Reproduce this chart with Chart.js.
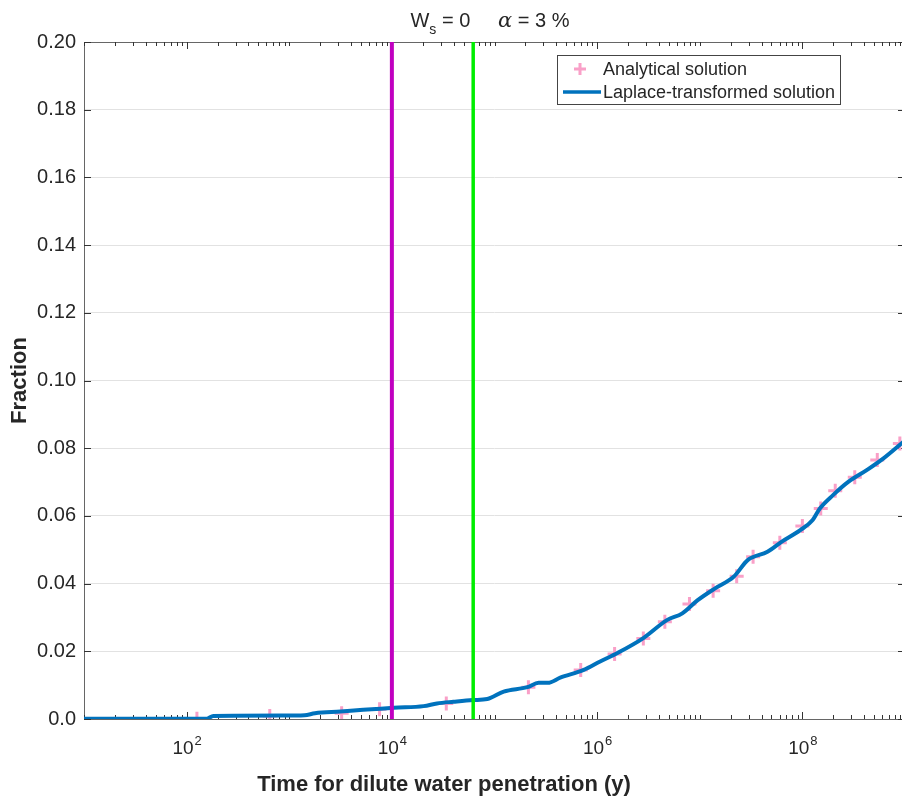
<!DOCTYPE html>
<html>
<head>
<meta charset="utf-8">
<script src="https://cdn.jsdelivr.net/npm/chart.js@4.4.1/dist/chart.umd.min.js"></script>
<style>
html, body { margin: 0; padding: 0; background: #fff; overflow: hidden; }
#myChart { display: block; width: 906px; height: 798px; }
</style>
</head>
<body>
<canvas id="myChart" width="906" height="798"></canvas>
<script>
// Laplace-transformed solution: time (y) and fraction
var lineTime = [10, 158, 182, 891, 1410, 1780, 3160, 5250, 7760, 1.05e4, 2.04e4, 2.75e4, 3.98e4,
  6.17e4, 8.51e4, 1.23e5, 2.09e5, 2.69e5, 3.31e5, 4.37e5, 7.41e5, 1.07e6, 1.58e6, 2.82e6,
  4.79e6, 6.76e6, 9.55e6, 1.41e7, 2.14e7, 2.95e7, 4.57e7, 6.31e7, 9.55e7, 1.26e8, 1.48e8,
  2.0e8, 2.82e8, 4.27e8, 6.17e8, 1e9];
var lineFrac = [0.0001, 0.0001, 0.0009, 0.0010, 0.0011, 0.0017, 0.0022, 0.0027, 0.0030, 0.0033,
  0.0038, 0.0046, 0.0051, 0.0056, 0.0059, 0.0081, 0.0094, 0.0107, 0.0107, 0.0122, 0.0145,
  0.0170, 0.0195, 0.0239, 0.0292, 0.0312, 0.0351, 0.0386, 0.0420, 0.0470, 0.0494, 0.0524,
  0.0558, 0.0588, 0.0622, 0.0662, 0.0701, 0.0736, 0.0770, 0.0823];

// Analytical solution points
var anaTime = [126, 646, 3240, 7590, 3.39e4, 2.14e5, 6.92e5, 1.48e6, 2.82e6, 4.57e6, 7.94e6,
  1.35e7, 2.29e7, 3.31e7, 6.03e7, 1.0e8, 1.51e8, 2.09e8, 3.24e8, 5.37e8, 8.91e8];
var anaFrac = [0.0001, 0.0009, 0.0017, 0.0029, 0.0046, 0.0094, 0.0145, 0.0192, 0.0238, 0.0287,
  0.0340, 0.0379, 0.0422, 0.0479, 0.0521, 0.0570, 0.0622, 0.0674, 0.0714, 0.0765, 0.0814];

// vertical marker times
var magentaTime = 1.0e4;
var greenTime = 6.2e4;

var xMin = 10, xMax = 1e9;
var yMin = 0, yMax = 0.2, yStep = 0.02;
var xLabelExps = [2, 4, 6, 8];

var seriesNames = ['Analytical solution', 'Laplace-transformed solution'];

var pink = '#f9a0c8';
var blue = '#0072bd';
var axisCol = '#262626';

function pts(xs, ys) {
  var out = [];
  for (var i = 0; i < xs.length; i++) out.push({x: xs[i], y: ys[i]});
  return out;
}

var FONT = '"Liberation Sans", Arial, Helvetica, sans-serif';

// axes box, inward ticks, x labels with exponents, titles
var decorations = {
  id: 'decorations',
  beforeDatasetsDraw: function(chart) {
    var ctx = chart.ctx, a = chart.chartArea;
    var xs = chart.scales.x, ys = chart.scales.y;
    ctx.save();
    ctx.strokeStyle = '#666';
    ctx.lineWidth = 1;
    ctx.strokeRect(a.left + 0.5, a.top + 0.5, a.right - a.left - 1, a.bottom - a.top);
    ctx.beginPath();
    ctx.strokeStyle = '#333';
    for (var d = 1; d <= 9; d++) {
      for (var k = 1; k <= 9; k++) {
        var v = k * Math.pow(10, d);
        if (v > xMax) break;
        var px = Math.round(xs.getPixelForValue(v)) + 0.5;
        var len = (k === 1 && d % 2 === 0) ? 7 : 4;
        ctx.moveTo(px, a.bottom); ctx.lineTo(px, a.bottom - len);
        ctx.moveTo(px, a.top); ctx.lineTo(px, a.top + len);
      }
    }
    for (var t = yMin; t <= yMax + 1e-9; t += yStep) {
      var py = Math.round(ys.getPixelForValue(t)) + 0.5;
      ctx.moveTo(a.left, py); ctx.lineTo(a.left + 7, py);
      ctx.moveTo(a.right, py); ctx.lineTo(a.right - 7, py);
    }
    ctx.stroke();
    ctx.restore();
  },
  afterDraw: function(chart) {
    var ctx = chart.ctx, a = chart.chartArea;
    var xs = chart.scales.x;
    ctx.save();
    ctx.fillStyle = axisCol;
    ctx.textBaseline = 'alphabetic';
    // x tick labels 10^n
    xLabelExps.forEach(function(e) {
      var px = xs.getPixelForValue(Math.pow(10, e));
      ctx.font = '19px ' + FONT;
      var w1 = ctx.measureText('10').width;
      ctx.font = '13px ' + FONT;
      var w2 = ctx.measureText(String(e)).width;
      var x0 = px - (w1 + w2) / 2;
      ctx.font = '19px ' + FONT;
      ctx.textAlign = 'left';
      ctx.fillText('10', x0, 754);
      ctx.font = '13px ' + FONT;
      ctx.fillText(String(e), x0 + w1 + 1, 745);
    });
    // axis titles
    ctx.font = 'bold 22px ' + FONT;
    ctx.textAlign = 'center';
    ctx.fillText('Time for dilute water penetration (y)', 444, 791);
    ctx.save();
    ctx.translate(26, (a.top + a.bottom) / 2);
    ctx.rotate(-Math.PI / 2);
    ctx.fillText('Fraction', 0, 0);
    ctx.restore();
    // title: W_s = 0    alpha = 3 %
    var parts = [
      {t: 'W', f: '20px ' + FONT, dy: 0},
      {t: 's', f: '14px ' + FONT, dy: 7},
      {t: ' = 0     ', f: '20px ' + FONT, dy: 0},
      {t: '\u03b1', f: 'italic 21px "DejaVu Serif", "Liberation Serif", serif', dy: 0},
      {t: ' = 3 %', f: '20px ' + FONT, dy: 0}
    ];
    var total = 0;
    parts.forEach(function(p) { ctx.font = p.f; p.w = ctx.measureText(p.t).width; total += p.w; });
    var tx = 490 - total / 2;
    ctx.textAlign = 'left';
    parts.forEach(function(p) { ctx.font = p.f; ctx.fillText(p.t, tx, 27 + p.dy); tx += p.w; });
    // legend
    ctx.fillStyle = '#fff';
    ctx.fillRect(557.5, 55.5, 283, 49);
    ctx.strokeStyle = '#444';
    ctx.lineWidth = 1;
    ctx.strokeRect(557.5, 55.5, 283, 49);
    ctx.strokeStyle = pink;
    ctx.lineWidth = 3;
    ctx.beginPath();
    ctx.moveTo(580, 63); ctx.lineTo(580, 75);
    ctx.moveTo(574, 69); ctx.lineTo(586, 69);
    ctx.stroke();
    ctx.strokeStyle = blue;
    ctx.lineWidth = 3.5;
    ctx.beginPath();
    ctx.moveTo(563, 92); ctx.lineTo(601, 92);
    ctx.stroke();
    ctx.fillStyle = axisCol;
    ctx.font = '18px ' + FONT;
    ctx.textBaseline = 'middle';
    ctx.fillText(seriesNames[0], 603, 70);
    ctx.fillText(seriesNames[1], 603, 93);
    ctx.restore();
  }
};

var ctxEl = document.getElementById('myChart');
var myChart = new Chart(ctxEl, {
  type: 'line',
  data: {
    datasets: [
      {
        label: 'magenta',
        data: pts([magentaTime, magentaTime], [yMin, yMax]),
        borderColor: '#c000c0',
        borderWidth: 4,
        pointRadius: 0,
        order: 0
      },
      {
        label: 'green',
        data: pts([greenTime, greenTime], [yMin, yMax]),
        borderColor: '#00ee00',
        borderWidth: 3.5,
        pointRadius: 0,
        order: 0
      },
      {
        label: seriesNames[1],
        data: pts(lineTime, lineFrac),
        borderColor: blue,
        borderWidth: 4,
        pointRadius: 0,
        cubicInterpolationMode: 'monotone',
        order: 1
      },
      {
        label: seriesNames[0],
        data: pts(anaTime, anaFrac),
        showLine: false,
        pointStyle: 'cross',
        pointRadius: 7,
        pointBorderWidth: 3,
        pointBorderColor: pink,
        pointBackgroundColor: pink,
        order: 2
      }
    ]
  },
  options: {
    responsive: false,
    animation: false,
    layout: { autoPadding: false, padding: { top: 42, left: 0, right: 1, bottom: 0 } },
    plugins: {
      legend: { display: false },
      tooltip: { enabled: false }
    },
    scales: {
      x: {
        type: 'logarithmic',
        min: xMin,
        max: xMax,
        grid: { display: false },
        border: { display: false },
        ticks: { display: false },
        afterFit: function(s) { s.height = 79; }
      },
      y: {
        min: yMin,
        max: yMax,
        grid: { color: '#e2e2e2', drawTicks: false },
        border: { display: false },
        ticks: {
          stepSize: yStep,
          padding: 8,
          color: axisCol,
          font: { size: 20, family: 'Liberation Sans' },
          callback: function(v) { return v === 0 ? '0.0' : v.toFixed(2); }
        },
        afterFit: function(s) { s.width = 84; }
      }
    }
  },
  plugins: [decorations]
});
</script>
</body>
</html>
